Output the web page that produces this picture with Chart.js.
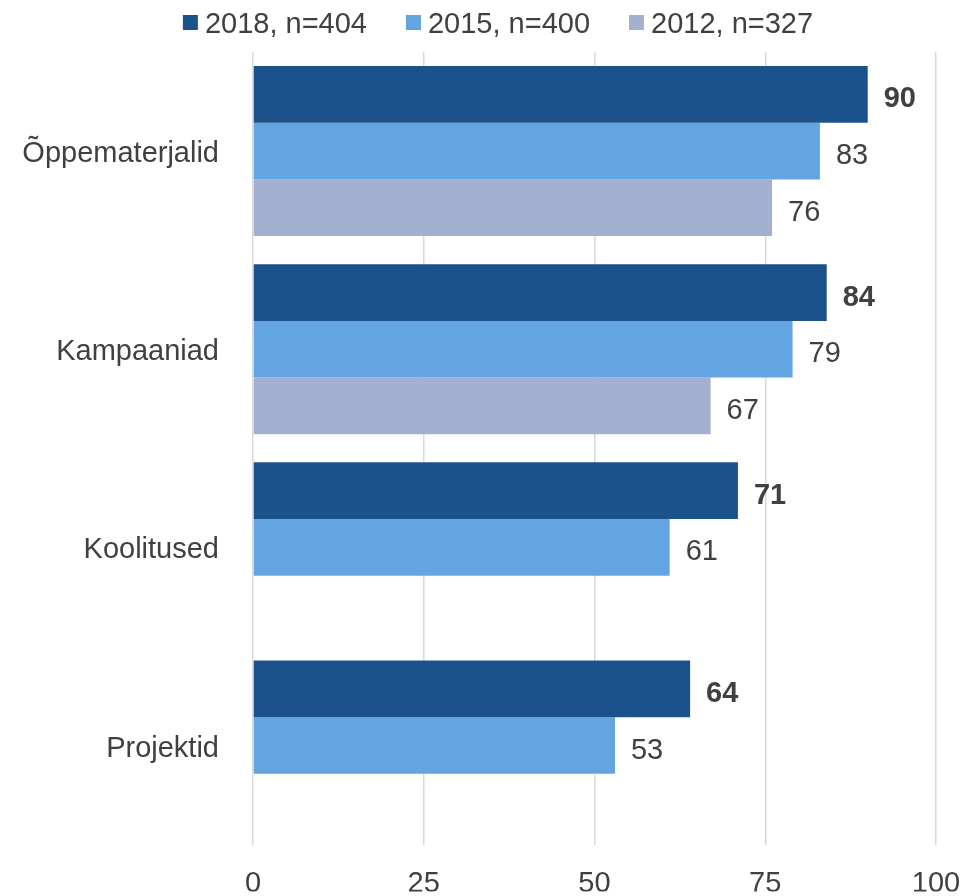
<!DOCTYPE html>
<html>
<head>
<meta charset="utf-8">
<title>Õppematerjalid, kampaaniad, koolitused, projektid</title>
<script src="https://cdn.jsdelivr.net/npm/chart.js@4"></script>
<style>
  html, body { margin: 0; padding: 0; background: #fff; overflow: hidden; }
  #wrap { position: relative; width: 963px; height: 896px; }
  #chart { display: block; }
</style>
</head>
<body>
<div id="wrap"><canvas id="chart"></canvas></div>
<script>
// Survey results by year, grouped per activity type
const categories = ['Õppematerjalid', 'Kampaaniad', 'Koolitused', 'Projektid'];
const seriesNames = ['2018, n=404', '2015, n=400', '2012, n=327'];
const values2018 = [90, 84, 71, 64];
const values2015 = [83, 79, 61, 53];
const values2012 = [76, 67, null, null];
const xTicks = [0, 25, 50, 75, 100];

const COLORS = ['#1B528C', '#63A4E2', '#A3B0D0'];
const TEXT = '#404040';
const FONT = 'Liberation Sans, Arial, sans-serif';
const SIZE = 29;

// value labels at the end of each bar; latest year in bold
const barLabels = {
  id: 'barLabels',
  afterDatasetsDraw(chart) {
    const ctx = chart.ctx;
    ctx.save();
    ctx.fillStyle = TEXT;
    ctx.textAlign = 'left';
    ctx.textBaseline = 'middle';
    chart.data.datasets.forEach((ds, i) => {
      ctx.font = (i === 0 ? 'bold ' : '') + SIZE + 'px ' + FONT;
      chart.getDatasetMeta(i).data.forEach((bar, j) => {
        const v = ds.data[j];
        if (v == null) return;
        ctx.fillText(String(v), bar.x + 16, bar.y + 5);
      });
    });
    ctx.restore();
  }
};

// legend row above the plot: square swatch + label
const topLegend = {
  id: 'topLegend',
  afterDraw(chart) {
    const ctx = chart.ctx;
    ctx.save();
    ctx.font = SIZE + 'px ' + FONT;
    ctx.textBaseline = 'middle';
    const box = 15, gap = 7, spacing = 39;
    const widths = seriesNames.map(n => box + gap + ctx.measureText(n).width);
    const total = widths.reduce((a, b) => a + b, 0) + spacing * (widths.length - 1);
    let x = 498 - total / 2;
    const y = 23;
    seriesNames.forEach((name, i) => {
      ctx.fillStyle = COLORS[i];
      ctx.fillRect(x, y - 8, box, box);
      ctx.fillStyle = TEXT;
      ctx.fillText(name, x + box + gap, y + 2);
      x += widths[i] + spacing;
    });
    ctx.restore();
  }
};

new Chart(document.getElementById('chart'), {
  type: 'bar',
  data: {
    labels: categories,
    datasets: [values2018, values2015, values2012].map((vals, i) => ({
      label: seriesNames[i],
      data: vals,
      backgroundColor: COLORS[i],
      borderWidth: 0,
      categoryPercentage: 0.858,
      barPercentage: 1,
    })),
  },
  options: {
    indexAxis: 'y',
    responsive: true,
    maintainAspectRatio: false,
    animation: false,
    layout: { padding: { top: 52, right: 27, left: 0, bottom: 0 } },
    plugins: {
      legend: { display: false },
      tooltip: { enabled: false },
    },
    scales: {
      x: {
        min: 0,
        max: 100,
        afterBuildTicks: scale => { scale.ticks = xTicks.map(v => ({ value: v })); },
        afterFit: scale => {
          scale.height = 47;
          scale.paddingLeft = 0;
          scale.paddingRight = 0;
        },
        grid: { color: '#D9D9D9', lineWidth: 1.5, drawTicks: false },
        border: { display: false },
        ticks: {
          color: TEXT,
          padding: 22,
          maxRotation: 0,
          font: { family: FONT, size: SIZE },
        },
      },
      y: {
        afterFit: scale => { scale.width = 253; },
        grid: { display: false, drawTicks: false },
        border: { display: false },
        ticks: {
          color: TEXT,
          padding: 34,
          labelOffset: 3,
          font: { family: FONT, size: SIZE },
        },
      },
    },
  },
  plugins: [barLabels, topLegend],
});
</script>
</body>
</html>
